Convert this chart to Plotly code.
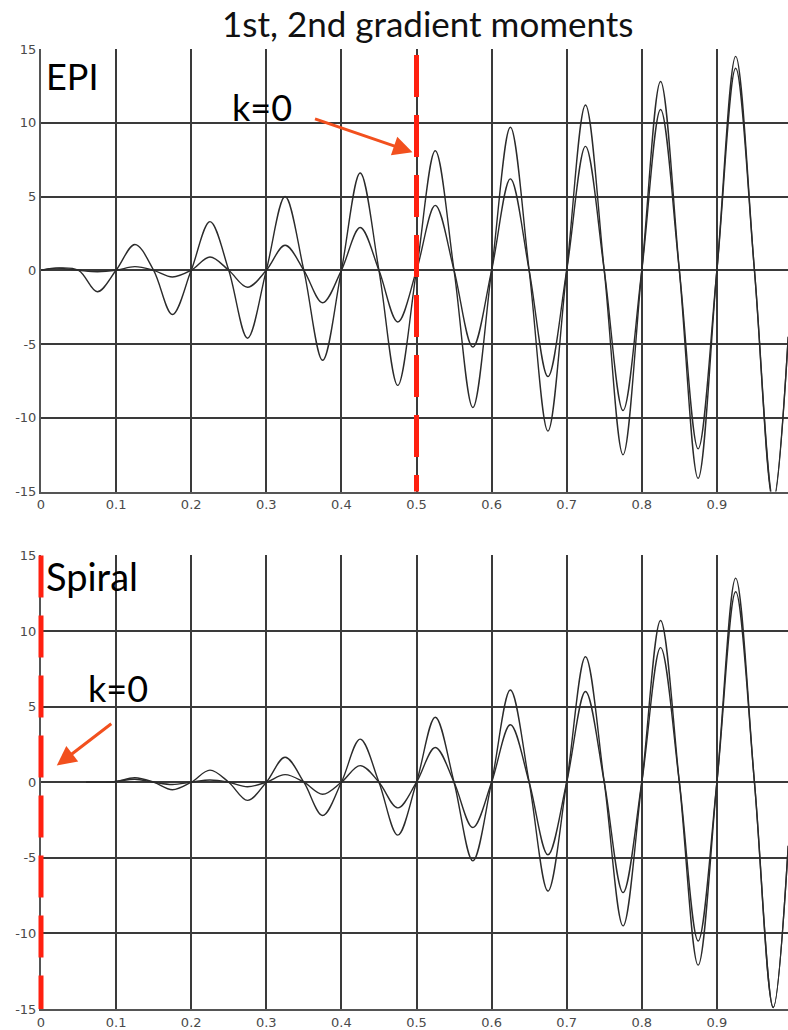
import plotly.graph_objects as go

# ---------------- data ----------------
# EPI panel: positions of extrema / zero crossings and the two moment curves
epi_x = [0, 0.02, 0.05, 0.075, 0.1, 0.125, 0.15, 0.175, 0.2, 0.225, 0.25, 0.275,
         0.3, 0.325, 0.35, 0.375, 0.4, 0.425, 0.45, 0.475, 0.5, 0.525, 0.55, 0.575,
         0.6, 0.625, 0.65, 0.675, 0.7, 0.725, 0.75, 0.775, 0.8, 0.825, 0.85, 0.875,
         0.9, 0.925, 0.95, 0.975, 0.995]
epi_m2 = [0, 0.15, 0, -1.45, 0, 1.75, 0, -3.0, 0, 3.3, 0, -4.6,
          0, 5.0, 0, -6.1, 0, 6.6, 0, -7.8, 0, 8.1, 0, -9.3,
          0, 9.7, 0, -10.9, 0, 11.2, 0, -12.5, 0, 12.8, 0, -14.1,
          0, 14.5, 0, -15.7, -4.5]
epi_m1 = [0, 0.15, 0, -0.1, 0, 0.25, 0, -0.45, 0, 0.9, 0, -1.15,
          0, 1.7, 0, -2.2, 0, 2.9, 0, -3.5, 0, 4.4, 0, -5.2,
          0, 6.2, 0, -7.2, 0, 8.4, 0, -9.5, 0, 10.9, 0, -12.1,
          0, 13.7, 0, -15.5, -4.5]

# Spiral panel
sp_x = [0.06, 0.085, 0.1, 0.125, 0.15, 0.175, 0.2, 0.225, 0.25, 0.275,
        0.3, 0.325, 0.35, 0.375, 0.4, 0.425, 0.45, 0.475, 0.5, 0.525, 0.55, 0.575,
        0.6, 0.625, 0.65, 0.675, 0.7, 0.725, 0.75, 0.775, 0.8, 0.825, 0.85, 0.875,
        0.9, 0.925, 0.95, 0.975, 0.995]
sp_m2 = [0, 0, 0.05, 0.3, 0, -0.5, 0, 0.8, 0, -1.2,
         0, 1.65, 0, -2.2, 0, 2.85, 0, -3.5, 0, 4.3, 0, -5.2,
         0, 6.1, 0, -7.2, 0, 8.3, 0, -9.5, 0, 10.7, 0, -12.1,
         0, 13.5, 0, -14.9, -4.2]
sp_m1 = [0, 0, 0.05, 0.2, 0, -0.15, 0, 0.15, 0, -0.3,
         0, 0.5, 0, -0.8, 0, 1.1, 0, -1.7, 0, 2.3, 0, -3.0,
         0, 3.8, 0, -4.8, 0, 6.0, 0, -7.3, 0, 8.9, 0, -10.5,
         0, 12.6, 0, -14.9, -4.2]

x_ticks = [0, 0.1, 0.2, 0.3, 0.4, 0.5, 0.6, 0.7, 0.8, 0.9]
x_tick_labels = ["0", "0.1", "0.2", "0.3", "0.4", "0.5", "0.6", "0.7", "0.8", "0.9"]
y_ticks = [-15, -10, -5, 0, 5, 10, 15]
y_tick_labels = ["-15", "-10", "-5", "0", "5", "10", "15"]

title_text = "1st, 2nd gradient moments"
panel_names = ["EPI", "Spiral"]
kzero_text = "k=0"
kzero_pos = [0.5, 0.0]   # k=0 location in each panel

# ---------------- figure ----------------
W, H = 788, 1030
ML, MR, MT, MB = 41, 0, 49, 18
plot_h = H - MT - MB

def dom(top_px, bot_px):
    return [(H - MB - bot_px) / plot_h, (H - MB - top_px) / plot_h]

top_dom = dom(49, 493)
bot_dom = dom(557, 1012)

fig = go.Figure()

curve_style = dict(color="#2b2b2b", width=1.4, shape="spline", smoothing=1.0)
for xs, ys in [(epi_x, epi_m2), (epi_x, epi_m1)]:
    fig.add_trace(go.Scatter(x=xs, y=ys, mode="lines", line=curve_style,
                             xaxis="x", yaxis="y", showlegend=False, hoverinfo="skip"))
for xs, ys in [(sp_x, sp_m2), (sp_x, sp_m1)]:
    fig.add_trace(go.Scatter(x=xs, y=ys, mode="lines", line=curve_style,
                             xaxis="x2", yaxis="y2", showlegend=False, hoverinfo="skip"))

grid = dict(showgrid=True, gridcolor="#3a3a3a", gridwidth=1.6, zeroline=False,
            showline=True, linecolor="#555555", linewidth=2, ticks="",
            tickfont=dict(family="DejaVu Sans", size=13, color="#4a4a4a"))

plot_w = W - ML - MR
xr = plot_w / 751.0
xcommon = dict(range=[0, xr], tickmode="array", tickvals=x_ticks,
               ticktext=x_tick_labels, **grid)
ycommon = dict(range=[-15, 15], tickmode="array", tickvals=y_ticks,
               ticktext=y_tick_labels, **grid)

fig.update_layout(
    width=W, height=H,
    margin=dict(l=ML, r=MR, t=MT, b=MB, pad=0),
    paper_bgcolor="white", plot_bgcolor="white",
    xaxis=dict(domain=[0, 1], anchor="y", **xcommon),
    yaxis=dict(domain=top_dom, anchor="x", **ycommon),
    xaxis2=dict(domain=[0, 1], anchor="y2", **xcommon),
    yaxis2=dict(domain=bot_dom, anchor="x2", **ycommon),
)

red = "#ff2010"
arrow_col = "#f2501e"

def ypaper(dom_, v):
    return dom_[0] + (v + 15) / 30.0 * (dom_[1] - dom_[0])

# k=0 dashed markers (paper refs so the edge line is not clipped)
fig.add_shape(type="line", xref="paper", yref="paper",
              x0=kzero_pos[0] / xr, x1=kzero_pos[0] / xr,
              y0=ypaper(top_dom, 14.6), y1=ypaper(top_dom, -15),
              line=dict(color=red, width=5, dash="42px,18px"))
fig.add_shape(type="line", xref="paper", yref="paper",
              x0=kzero_pos[1] / xr, x1=kzero_pos[1] / xr,
              y0=ypaper(bot_dom, 15), y1=ypaper(bot_dom, -15),
              line=dict(color=red, width=5, dash="42px,18px"))

ann = []
ann.append(dict(text=title_text, xref="paper", yref="paper", x=0.518, y=1 + 26.5 / plot_h,
                xanchor="center", yanchor="middle", showarrow=False,
                font=dict(family="Lato", size=35, color="#111111")))
ann.append(dict(text=panel_names[0], xref="x", yref="y", x=0.0413, y=13.2,
                xanchor="center", yanchor="middle", showarrow=False,
                font=dict(family="Lato", size=36, color="black")))
ann.append(dict(text=kzero_text, xref="x", yref="y", x=0.2947, y=11.1,
                xanchor="center", yanchor="middle", showarrow=False,
                font=dict(family="Lato", size=36, color="black")))
ann.append(dict(text=panel_names[1], xref="x2", yref="y2", x=0.0673, y=13.65,
                xanchor="center", yanchor="middle", showarrow=False,
                font=dict(family="Lato", size=38, color="black")))
ann.append(dict(text=kzero_text, xref="x2", yref="y2", x=0.1027, y=6.25,
                xanchor="center", yanchor="middle", showarrow=False,
                font=dict(family="Lato", size=36, color="black")))
# arrows
ann.append(dict(text="", xref="x", yref="y", x=0.4947, y=8.0, ax=-99, ay=-34,
                showarrow=True, arrowhead=2, arrowsize=1.3, arrowwidth=3,
                arrowcolor=arrow_col, standoff=0))
ann.append(dict(text="", xref="x2", yref="y2", x=0.021, y=1.1, ax=56, ay=-43,
                showarrow=True, arrowhead=2, arrowsize=1.3, arrowwidth=3,
                arrowcolor=arrow_col, standoff=0))
fig.update_layout(annotations=ann)

# remove the default 8px page margin so the figure fills the window exactly
fig.write_html("out.html", config={"displayModeBar": False},
               post_script="document.body.style.margin='0px';")
